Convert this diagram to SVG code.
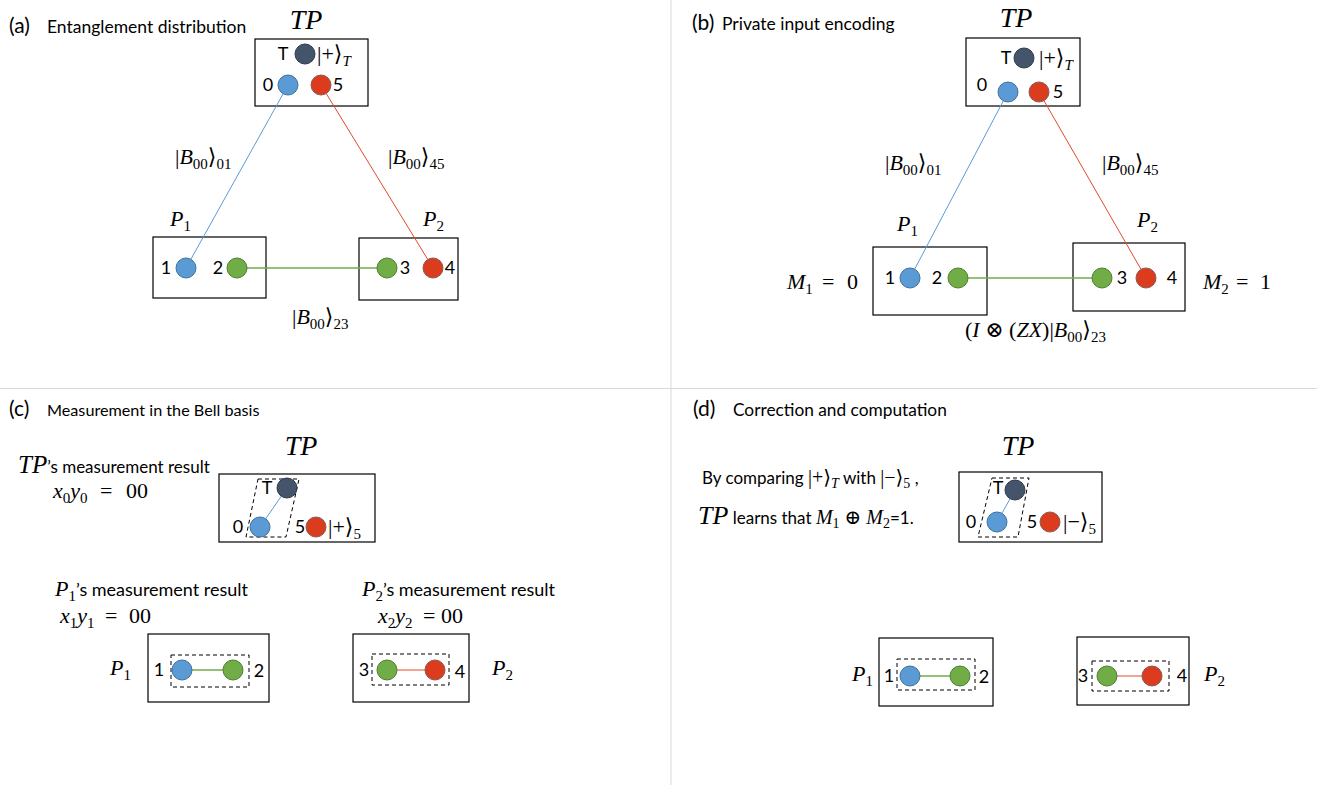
<svg xmlns="http://www.w3.org/2000/svg" width="1317" height="785" viewBox="0 0 1317 785">
<style>
.lbl{font-family:Lato,"Liberation Sans",sans-serif;font-size:18px;fill:#000}
.m{font-family:"Liberation Serif","DejaVu Serif",serif;font-size:22px;fill:#000}
.it{font-style:italic}
.tp{font-family:"Liberation Serif","DejaVu Serif",serif;font-size:28px;font-style:italic;fill:#000}
.sub{font-size:15px}
.box{fill:#fff;stroke:#000;stroke-width:1.2}
.dash{fill:none;stroke:#000;stroke-width:1;stroke-dasharray:4 3}
.b{fill:#5b9bd5;stroke:#41719c;stroke-width:1}
.g{fill:#70ad47;stroke:#507e32;stroke-width:1}
.r{fill:#dc3c1e;stroke:#8a5a52;stroke-width:1}
.d{fill:#44546a;stroke:#2f3b4c;stroke-width:1}
.lb{stroke:#5b9bd5;stroke-width:1;fill:none}
.lr{stroke:#e04a2c;stroke-width:1;fill:none}
.lg{stroke:#70ad47;stroke-width:1.3;fill:none}
.div{stroke:#d9d9d9;stroke-width:1}
.par{font-family:Lato,"Liberation Sans",sans-serif;font-size:21px;fill:#000}
.sm{font-size:17px}
.ms{font-size:20px}
.mss{font-size:14px}
</style>

<g id="dividers">
<line class="div" x1="671" y1="0" x2="671" y2="785"/>
<line class="div" x1="0" y1="388.5" x2="1317" y2="388.5"/>
</g>

<!-- ===== Panel (a) ===== -->
<g id="a-title">
<text class="par" x="9" y="33">(a)</text>
<text class="lbl" x="47" y="33" style="font-size:17.5px">Entanglement distribution</text>
</g>
<g id="a-TP">
<text class="tp" x="306" y="29" text-anchor="middle">TP</text>
<rect class="box" x="255" y="39" width="113" height="67"/>
<text class="lbl" x="283" y="60" text-anchor="middle">T</text>
<text class="m" x="317" y="61">|+⟩<tspan class="sub it" dy="5">T</tspan></text>
<text class="lbl" x="268" y="91" text-anchor="middle">0</text>
<text class="lbl" x="338" y="91" text-anchor="middle">5</text>
</g>
<g id="a-P1">
<text class="m" x="170" y="226"><tspan class="it">P</tspan><tspan class="sub" dy="5">1</tspan></text>
<rect class="box" x="153" y="237" width="113" height="61"/>
<text class="lbl" x="166" y="274" text-anchor="middle">1</text>
<text class="lbl" x="218" y="274" text-anchor="middle">2</text>
</g>
<g id="a-P2">
<text class="m" x="423" y="226"><tspan class="it">P</tspan><tspan class="sub" dy="5">2</tspan></text>
<rect class="box" x="359" y="238" width="99" height="62"/>
<text class="lbl" x="405" y="274" text-anchor="middle">3</text>
<text class="lbl" x="450" y="274" text-anchor="middle">4</text>
</g>
<g id="a-connectors">
<line class="lb" x1="288" y1="85" x2="186" y2="268"/>
<line class="lr" x1="321" y1="85" x2="433" y2="268"/>
<line class="lg" x1="237" y1="268" x2="387" y2="268"/>
<text class="m" x="175" y="164">|<tspan class="it">B</tspan><tspan class="sub" dy="5">00</tspan><tspan dy="-5">⟩</tspan><tspan class="sub" dy="5">01</tspan></text>
<text class="m" x="388" y="164">|<tspan class="it">B</tspan><tspan class="sub" dy="5">00</tspan><tspan dy="-5">⟩</tspan><tspan class="sub" dy="5">45</tspan></text>
<text class="m" x="292" y="324">|<tspan class="it">B</tspan><tspan class="sub" dy="5">00</tspan><tspan dy="-5">⟩</tspan><tspan class="sub" dy="5">23</tspan></text>
</g>
<g id="a-qubits">
<circle class="d" cx="305" cy="54" r="10"/>
<circle class="b" cx="288" cy="85" r="10"/>
<circle class="r" cx="321" cy="85" r="10"/>
<circle class="b" cx="186" cy="268" r="10"/>
<circle class="g" cx="237" cy="268" r="10"/>
<circle class="g" cx="387" cy="268" r="10"/>
<circle class="r" cx="433" cy="268" r="10"/>
</g>

<!-- ===== Panel (b) ===== -->
<g id="b-title">
<text class="par" x="692" y="30">(b)</text>
<text class="lbl" x="722" y="30" style="font-size:17.5px">Private input encoding</text>
</g>
<g id="b-TP">
<text class="tp" x="1016" y="27" text-anchor="middle">TP</text>
<rect class="box" x="966" y="38" width="114" height="68"/>
<text class="lbl" x="1006" y="64" text-anchor="middle">T</text>
<text class="m" x="1039" y="65">|+⟩<tspan class="sub it" dy="5">T</tspan></text>
<text class="lbl" x="982" y="91" text-anchor="middle">0</text>
<text class="lbl" x="1058" y="98" text-anchor="middle">5</text>
</g>
<g id="b-P1">
<text class="m" x="897" y="231"><tspan class="it">P</tspan><tspan class="sub" dy="5">1</tspan></text>
<rect class="box" x="873" y="247" width="114" height="68"/>
<text class="lbl" x="890" y="284" text-anchor="middle">1</text>
<text class="lbl" x="937" y="284" text-anchor="middle">2</text>
<text class="m" y="289"><tspan class="it" x="787">M</tspan><tspan class="sub" dy="5">1</tspan><tspan x="822" dy="-5">=</tspan><tspan x="847">0</tspan></text>
</g>
<g id="b-P2">
<text class="m" x="1137" y="227"><tspan class="it">P</tspan><tspan class="sub" dy="5">2</tspan></text>
<rect class="box" x="1073" y="243" width="112" height="68"/>
<text class="lbl" x="1122" y="284" text-anchor="middle">3</text>
<text class="lbl" x="1172" y="284" text-anchor="middle">4</text>
<text class="m" y="289"><tspan class="it" x="1203">M</tspan><tspan class="sub" dy="5">2</tspan><tspan x="1236" dy="-5">=</tspan><tspan x="1260">1</tspan></text>
</g>
<g id="b-connectors">
<line class="lb" x1="1008" y1="92" x2="910" y2="278"/>
<line class="lr" x1="1039" y1="92" x2="1146" y2="278"/>
<line class="lg" x1="958" y1="278" x2="1102" y2="278"/>
<text class="m" x="885" y="170">|<tspan class="it">B</tspan><tspan class="sub" dy="5">00</tspan><tspan dy="-5">⟩</tspan><tspan class="sub" dy="5">01</tspan></text>
<text class="m" x="1102" y="170">|<tspan class="it">B</tspan><tspan class="sub" dy="5">00</tspan><tspan dy="-5">⟩</tspan><tspan class="sub" dy="5">45</tspan></text>
<text class="m" x="965" y="337">(<tspan class="it">I</tspan> ⊗ (<tspan class="it">ZX</tspan>)|<tspan class="it">B</tspan><tspan class="sub" dy="5">00</tspan><tspan dy="-5">⟩</tspan><tspan class="sub" dy="5">23</tspan></text>
</g>
<g id="b-qubits">
<circle class="d" cx="1024" cy="58" r="10"/>
<circle class="b" cx="1008" cy="92" r="10"/>
<circle class="r" cx="1039" cy="92" r="10"/>
<circle class="b" cx="910" cy="278" r="10"/>
<circle class="g" cx="958" cy="278" r="10"/>
<circle class="g" cx="1102" cy="278" r="10"/>
<circle class="r" cx="1146" cy="278" r="10"/>
</g>

<!-- ===== Panel (c) ===== -->
<g id="c-title">
<text class="par" x="9" y="416">(c)</text>
<text class="lbl" x="47" y="416" style="font-size:16.2px">Measurement in the Bell basis</text>
</g>
<g id="c-TP">
<text class="tp" x="301" y="455" text-anchor="middle">TP</text>
<text class="lbl" x="18" y="473" style="font-size:17px"><tspan class="tp" style="font-size:25px">TP</tspan>’s measurement result</text>
<text class="m" y="498"><tspan class="it" x="53">x</tspan><tspan class="sub" dy="5">0</tspan><tspan class="it" dy="-5">y</tspan><tspan class="sub" dy="5">0</tspan><tspan x="100" dy="-5">=</tspan><tspan x="126">00</tspan></text>
<rect class="box" x="219" y="474" width="156" height="68"/>
<polygon class="dash" points="258,479 299,479 286,537 246,537"/>
<line class="lb" x1="287" y1="488" x2="260" y2="527"/>
<circle class="d" cx="287" cy="488" r="10"/>
<circle class="b" cx="260" cy="527" r="10"/>
<circle class="r" cx="316" cy="527" r="10"/>
<text class="lbl" x="267" y="494" text-anchor="middle">T</text>
<text class="lbl" x="238" y="533" text-anchor="middle">0</text>
<text class="lbl" x="300" y="533" text-anchor="middle">5</text>
<text class="m" x="328" y="534">|+⟩<tspan class="sub" dy="5">5</tspan></text>
</g>
<g id="c-P1">
<text class="lbl" x="55" y="596"><tspan class="m it">P</tspan><tspan class="m sub" dy="5">1</tspan><tspan dy="-5">’s measurement result</tspan></text>
<text class="m" y="623"><tspan class="it" x="60">x</tspan><tspan class="sub" dy="5">1</tspan><tspan class="it" dy="-5">y</tspan><tspan class="sub" dy="5">1</tspan><tspan x="105" dy="-5">=</tspan><tspan x="129">00</tspan></text>
<rect class="box" x="148" y="634" width="121" height="68"/>
<rect class="dash" x="171" y="655" width="78" height="32"/>
<line class="lg" x1="182" y1="670" x2="233" y2="670"/>
<circle class="b" cx="182" cy="670" r="10"/>
<circle class="g" cx="233" cy="670" r="10"/>
<text class="lbl" x="159" y="676" text-anchor="middle">1</text>
<text class="lbl" x="259" y="677" text-anchor="middle">2</text>
<text class="m" x="110" y="675"><tspan class="it">P</tspan><tspan class="sub" dy="5">1</tspan></text>
</g>
<g id="c-P2">
<text class="lbl" x="362" y="596"><tspan class="m it">P</tspan><tspan class="m sub" dy="5">2</tspan><tspan dy="-5">’s measurement result</tspan></text>
<text class="m" y="623"><tspan class="it" x="378">x</tspan><tspan class="sub" dy="5">2</tspan><tspan class="it" dy="-5">y</tspan><tspan class="sub" dy="5">2</tspan><tspan x="423" dy="-5">=</tspan><tspan x="441">00</tspan></text>
<rect class="box" x="353" y="634" width="116" height="68"/>
<rect class="dash" x="372" y="654" width="77" height="31"/>
<line class="lr" x1="387" y1="670" x2="435" y2="670"/>
<circle class="g" cx="387" cy="670" r="10"/>
<circle class="r" cx="435" cy="670" r="10"/>
<text class="lbl" x="364" y="676" text-anchor="middle">3</text>
<text class="lbl" x="460" y="678" text-anchor="middle">4</text>
<text class="m" x="492" y="675"><tspan class="it">P</tspan><tspan class="sub" dy="5">2</tspan></text>
</g>

<!-- ===== Panel (d) ===== -->
<g id="d-title">
<text class="par" x="693" y="416">(d)</text>
<text class="lbl" x="733" y="416" style="font-size:17.3px">Correction and computation</text>
</g>
<g id="d-text">
<text class="lbl sm" x="702" y="484">By comparing  <tspan class="m ms">|+⟩</tspan><tspan class="m mss it" dy="4">T</tspan><tspan dy="-4"> with </tspan><tspan class="m ms">|−⟩</tspan><tspan class="m mss" dy="4">5</tspan><tspan dy="-4"> ,</tspan></text>
<text class="lbl sm" x="698" y="524"><tspan class="tp" style="font-size:26px">TP</tspan> learns that <tspan class="m ms it">M</tspan><tspan class="m mss" dy="4">1</tspan><tspan class="m ms" dy="-4"> ⊕ </tspan><tspan class="m ms it">M</tspan><tspan class="m mss" dy="4">2</tspan><tspan dy="-4">=1.</tspan></text>
</g>
<g id="d-TP">
<text class="tp" x="1018" y="455" text-anchor="middle">TP</text>
<rect class="box" x="959" y="472" width="143" height="70"/>
<polygon class="dash" points="992,478 1029,478 1018,537 978,537"/>
<line class="lb" x1="1015" y1="490" x2="997" y2="522"/>
<circle class="d" cx="1015" cy="490" r="10"/>
<circle class="b" cx="997" cy="522" r="10"/>
<circle class="r" cx="1050" cy="522" r="10"/>
<text class="lbl" x="998" y="494" text-anchor="middle">T</text>
<text class="lbl" x="971" y="528" text-anchor="middle">0</text>
<text class="lbl" x="1032" y="528" text-anchor="middle">5</text>
<text class="m" x="1063" y="529">|−⟩<tspan class="sub" dy="5">5</tspan></text>
</g>
<g id="d-P1">
<rect class="box" x="879" y="638" width="114" height="68"/>
<rect class="dash" x="897" y="659" width="78" height="31"/>
<line class="lg" x1="910" y1="676" x2="960" y2="676"/>
<circle class="b" cx="910" cy="676" r="10"/>
<circle class="g" cx="960" cy="676" r="10"/>
<text class="lbl" x="889" y="682" text-anchor="middle">1</text>
<text class="lbl" x="984" y="683" text-anchor="middle">2</text>
<text class="m" x="852" y="681"><tspan class="it">P</tspan><tspan class="sub" dy="5">1</tspan></text>
</g>
<g id="d-P2">
<rect class="box" x="1077" y="637" width="112" height="68"/>
<rect class="dash" x="1092" y="661" width="77" height="30"/>
<line class="lr" x1="1107" y1="676" x2="1152" y2="676"/>
<circle class="g" cx="1107" cy="676" r="10"/>
<circle class="r" cx="1152" cy="676" r="10"/>
<text class="lbl" x="1083" y="682" text-anchor="middle">3</text>
<text class="lbl" x="1182" y="682" text-anchor="middle">4</text>
<text class="m" x="1204" y="681"><tspan class="it">P</tspan><tspan class="sub" dy="5">2</tspan></text>
</g>
</svg>
